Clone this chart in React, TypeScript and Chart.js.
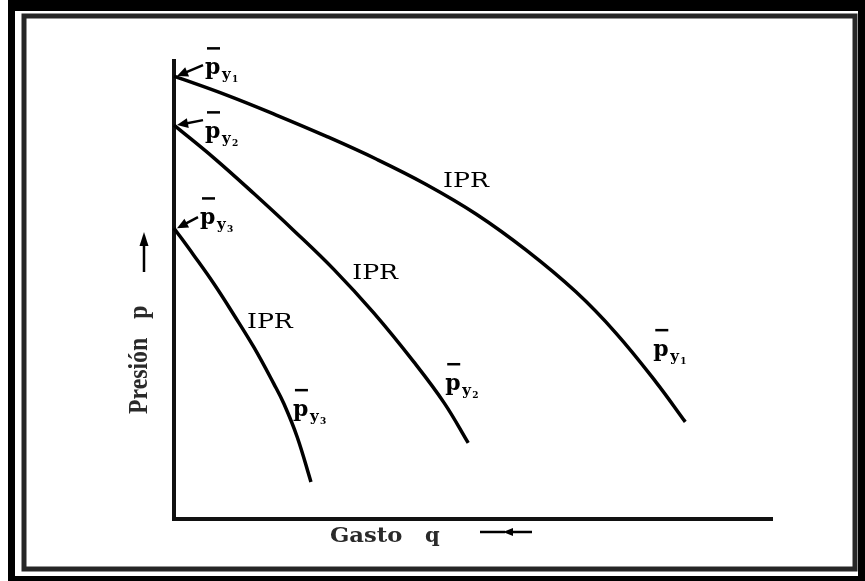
import React, { useEffect, useRef } from "react";
import { Chart, registerables } from "chart.js";

Chart.register(...registerables);

// Values (arbitrary units, 0-100 on both axes)
const gasto1 = [0, 8.7, 17.1, 25.4, 33.8, 42.1, 50.5, 58.9, 67.2, 73.9, 80.6, 85.5];
const presion1 = [96.7, 92.6, 88.2, 83.6, 78.6, 73.1, 66.6, 58.7, 49.6, 40.6, 29.9, 21.2];

const gasto2 = [0, 6.7, 13.4, 20.1, 26.8, 33.4, 40.1, 45.2, 49.2];
const presion2 = [86.0, 78.8, 71.0, 62.9, 54.4, 45.0, 34.3, 25.3, 16.6];

const gasto3 = [0, 3.3, 6.7, 10.0, 13.4, 16.7, 18.4, 20.6, 22.9];
const presion3 = [63.5, 57.6, 51.3, 44.6, 37.4, 29.5, 25.1, 17.9, 8.1];

const curveNames = ["IPR", "IPR", "IPR"];
const pSubscripts = ["1", "2", "3"];
// where each "IPR" text sits, in axis units (gasto, presion)
const iprGasto = [45.0, 29.8, 12.2];
const iprPresion = [72.5, 52.4, 41.7];

const xTitle = "Gasto q";
const yTitle = "Presión p";

const W = 865;
const H = 581;

function arrow(ctx: CanvasRenderingContext2D, x1: number, y1: number, x2: number, y2: number, head: number, w: number, lw: number) {
  const a = Math.atan2(y2 - y1, x2 - x1);
  const c = Math.cos(a);
  const s = Math.sin(a);
  ctx.beginPath();
  ctx.moveTo(x1, y1);
  ctx.lineTo(x2 - c * head * 0.7, y2 - s * head * 0.7);
  ctx.lineWidth = lw;
  ctx.stroke();
  ctx.beginPath();
  ctx.moveTo(x2, y2);
  ctx.lineTo(x2 - c * head - s * w, y2 - s * head + c * w);
  ctx.lineTo(x2 - c * head + s * w, y2 - s * head - c * w);
  ctx.closePath();
  ctx.fill();
}

function pbar(ctx: CanvasRenderingContext2D, x: number, y: number, sub: string) {
  ctx.font = 'bold 22px "DejaVu Serif"';
  ctx.fillText("p", x, y);
  ctx.fillRect(x + 2, y - 27, 13, 2.5);
  ctx.font = 'bold 15px "DejaVu Serif"';
  ctx.fillText("y", x + 17, y + 5);
  ctx.font = 'bold 9px "DejaVu Serif"';
  ctx.fillText(sub, x + 27, y + 8);
}

function stretchedText(ctx: CanvasRenderingContext2D, text: string, x: number, y: number, sx: number) {
  ctx.save();
  ctx.translate(x, y);
  ctx.scale(sx, 1);
  ctx.fillText(text, 0, 0);
  ctx.restore();
}

const decor = {
  id: "decor",
  beforeDraw(chart: any) {
    const ctx: CanvasRenderingContext2D = chart.ctx;
    ctx.save();
    ctx.fillStyle = "#ffffff";
    ctx.fillRect(0, 0, W, H);
    ctx.fillStyle = "#000000";
    ctx.fillRect(8, 0, W - 8, 11);
    ctx.fillRect(8, 0, 7, H);
    ctx.fillRect(858, 0, 7, H);
    ctx.fillRect(8, 576, W - 8, 5);
    ctx.strokeStyle = "#262626";
    ctx.lineWidth = 5;
    ctx.strokeRect(24, 16, 831, 553);
    ctx.restore();
  },
  afterDraw(chart: any) {
    const ctx: CanvasRenderingContext2D = chart.ctx;
    const xs = chart.scales.x;
    const ys = chart.scales.y;
    const curves = [
      [gasto1, presion1],
      [gasto2, presion2],
      [gasto3, presion3],
    ];
    const topOffsets = [
      [31, -2],
      [31, 13],
      [26, -4],
    ];
    const tailOffsets = [
      [29, -11],
      [29, -5],
      [24, -11],
    ];
    const endOffsets = [
      [-32, -66],
      [-23, -53],
      [-18, -66],
    ];
    ctx.save();
    ctx.fillStyle = "#000";
    ctx.strokeStyle = "#000";
    ctx.textBaseline = "alphabetic";
    curves.forEach(([g, p], i) => {
      const sx = xs.getPixelForValue(g[0]);
      const sy = ys.getPixelForValue(p[0]);
      const ex = xs.getPixelForValue(g[g.length - 1]);
      const ey = ys.getPixelForValue(p[p.length - 1]);
      arrow(ctx, sx + tailOffsets[i][0], sy + tailOffsets[i][1], sx + 3, sy, 11, 5, 2.5);
      pbar(ctx, sx + topOffsets[i][0], sy + topOffsets[i][1], pSubscripts[i]);
      pbar(ctx, ex + endOffsets[i][0], ey + endOffsets[i][1], pSubscripts[i]);
      ctx.font = '21px "DejaVu Serif"';
      stretchedText(ctx, curveNames[i], xs.getPixelForValue(iprGasto[i]), ys.getPixelForValue(iprPresion[i]), 1.2);
    });

    // x title
    const xw = xTitle.split(" ");
    ctx.font = 'bold 21px "DejaVu Serif"';
    ctx.fillStyle = "#2a2a2a";
    stretchedText(ctx, xw[0], 330, 542, 1.08);
    ctx.fillText(xw[1], 425, 542);
    ctx.fillStyle = "#000";
    ctx.strokeStyle = "#000";
    arrow(ctx, 532, 532, 503, 532, 10, 4, 2.5);
    ctx.beginPath();
    ctx.moveTo(480, 532);
    ctx.lineTo(505, 532);
    ctx.lineWidth = 2.5;
    ctx.stroke();

    // y title
    const yw = yTitle.split(" ");
    ctx.save();
    ctx.translate(147, 414);
    ctx.rotate(-Math.PI / 2);
    ctx.scale(0.85, 1);
    ctx.font = 'bold 28px "Liberation Serif"';
    ctx.fillStyle = "#2a2a2a";
    ctx.fillText(yw[0], 0, 0);
    ctx.fillText(yw[1], 112, 0);
    ctx.restore();
    arrow(ctx, 144, 272, 144, 232, 14, 4.5, 2.5);
    ctx.restore();
  },
};

export default function App() {
  const ref = useRef<HTMLCanvasElement | null>(null);
  useEffect(() => {
    if (!ref.current) return;
    const mk = (g: number[], p: number[]) => g.map((v, i) => ({ x: v, y: p[i] }));
    const ds = (g: number[], p: number[]) => ({
      data: mk(g, p),
      showLine: true,
      borderColor: "#000",
      borderWidth: 3.5,
      pointRadius: 0,
      tension: 0.4,
      clip: false as any,
    });
    const chart = new Chart(ref.current, {
      type: "scatter",
      data: {
        datasets: [ds(gasto1, presion1), ds(gasto2, presion2), ds(gasto3, presion3)],
      },
      options: {
        responsive: false,
        animation: false,
        devicePixelRatio: 1,
        layout: { padding: { left: 174, right: 93, top: 61, bottom: 62 } },
        plugins: { legend: { display: false }, tooltip: { enabled: false } },
        scales: {
          x: {
            type: "linear",
            min: 0,
            max: 100,
            grid: { display: false, drawTicks: false },
            ticks: { display: false },
            border: { display: true, color: "#111", width: 4 },
          },
          y: {
            type: "linear",
            min: 0,
            max: 100,
            grid: { display: false, drawTicks: false },
            ticks: { display: false },
            border: { display: true, color: "#111", width: 4 },
          },
        },
      },
      plugins: [decor],
    });
    return () => chart.destroy();
  }, []);
  return (
    <div style={{ position: "absolute", left: 0, top: 0, width: W, height: H }}>
      <canvas ref={ref} width={W} height={H} style={{ display: "block" }} />
    </div>
  );
}
